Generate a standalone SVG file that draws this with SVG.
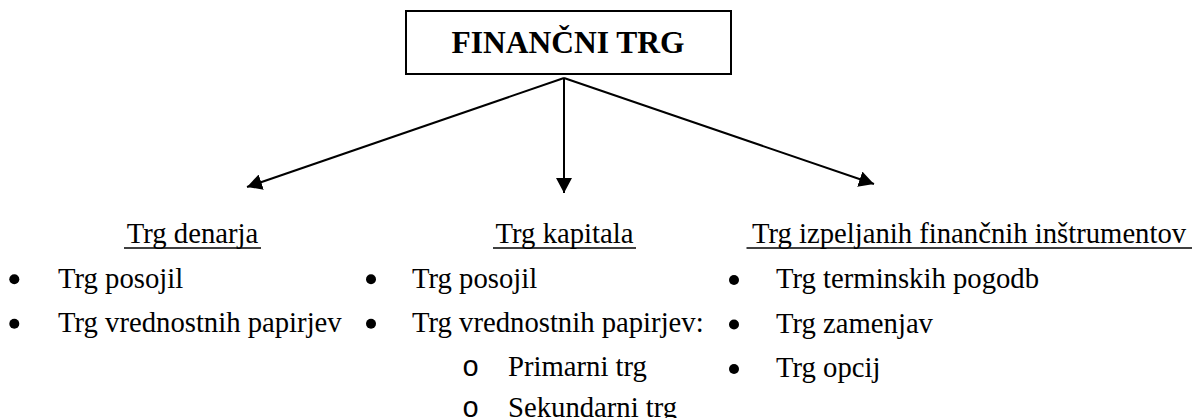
<svg xmlns="http://www.w3.org/2000/svg" width="1195" height="418" viewBox="0 0 1195 418">
<style>
.t{font-family:"Liberation Serif","Times New Roman",serif;font-size:28.7px;fill:#000}
.h{font-family:"Liberation Serif","Times New Roman",serif;font-size:28.7px;fill:#000;text-anchor:middle}
.title{font-family:"Liberation Serif","Times New Roman",serif;font-size:31.5px;font-weight:bold;fill:#000;text-anchor:middle}
.o{font-family:"Liberation Mono","Courier New",monospace;font-size:28.7px;fill:#000}
.ul{stroke:#000;stroke-width:1.6}
.c{stroke:#000;stroke-width:2;fill:none}
.b{fill:#000}
</style>
<defs>
<marker id="ah" viewBox="0 0 15 16" refX="15" refY="8" markerWidth="15" markerHeight="16" markerUnits="userSpaceOnUse" orient="auto">
<path d="M0,0 L15,8 L0,16 Z" fill="#000"/>
</marker>
<clipPath id="clipL"><rect x="0" y="200" width="345" height="218"/></clipPath>
<clipPath id="clipM"><rect x="360" y="200" width="347" height="218"/></clipPath>
</defs>
<g id="root">
<rect x="406" y="11" width="325" height="63" fill="#fff" stroke="#000" stroke-width="2"/>
<text class="title" x="568" y="53">FINANČNI TRG</text>
</g>
<g id="connectors">
<line class="c" x1="564" y1="78" x2="247" y2="187" marker-end="url(#ah)"/>
<line class="c" x1="564" y1="78" x2="564" y2="193" marker-end="url(#ah)"/>
<line class="c" x1="564" y1="78" x2="874" y2="184" marker-end="url(#ah)"/>
</g>
<g id="denar">
<text class="h" x="192.5" y="243">Trg denarja</text>
<line class="ul" x1="124" y1="248" x2="261" y2="248"/>
<circle class="b" cx="14.3" cy="279.3" r="5"/>
<circle class="b" cx="14.3" cy="323.8" r="5"/>
<g clip-path="url(#clipL)">
<text class="t" x="58" y="287.5">Trg posojil</text>
<text class="t" x="58" y="332">Trg vrednostnih papirjev</text>
</g>
</g>
<g id="kapital">
<text class="h" x="564.5" y="243">Trg kapitala</text>
<line class="ul" x1="493" y1="248" x2="636" y2="248"/>
<circle class="b" cx="371" cy="279.3" r="5"/>
<circle class="b" cx="371" cy="323.8" r="5"/>
<g clip-path="url(#clipM)">
<text class="t" x="412" y="287.5">Trg posojil</text>
<text class="t" x="412" y="332">Trg vrednostnih papirjev:</text>
</g>
<text class="o" x="462" y="376">o</text>
<text class="t" x="508" y="376">Primarni trg</text>
<text class="o" x="462" y="416.5">o</text>
<text class="t" x="508" y="416.5">Sekundarni trg</text>
</g>
<g id="izvedeni">
<text class="h" x="969" y="243">Trg izpeljanih finančnih inštrumentov</text>
<line class="ul" x1="746.5" y1="248" x2="1192" y2="248"/>
<circle class="b" cx="734" cy="280" r="5"/>
<circle class="b" cx="734" cy="324.5" r="5"/>
<circle class="b" cx="734" cy="369" r="5"/>
<text class="t" x="776" y="287.8">Trg terminskih pogodb</text>
<text class="t" x="776" y="332.5">Trg zamenjav</text>
<text class="t" x="776" y="376.8">Trg opcij</text>
</g>
</svg>
